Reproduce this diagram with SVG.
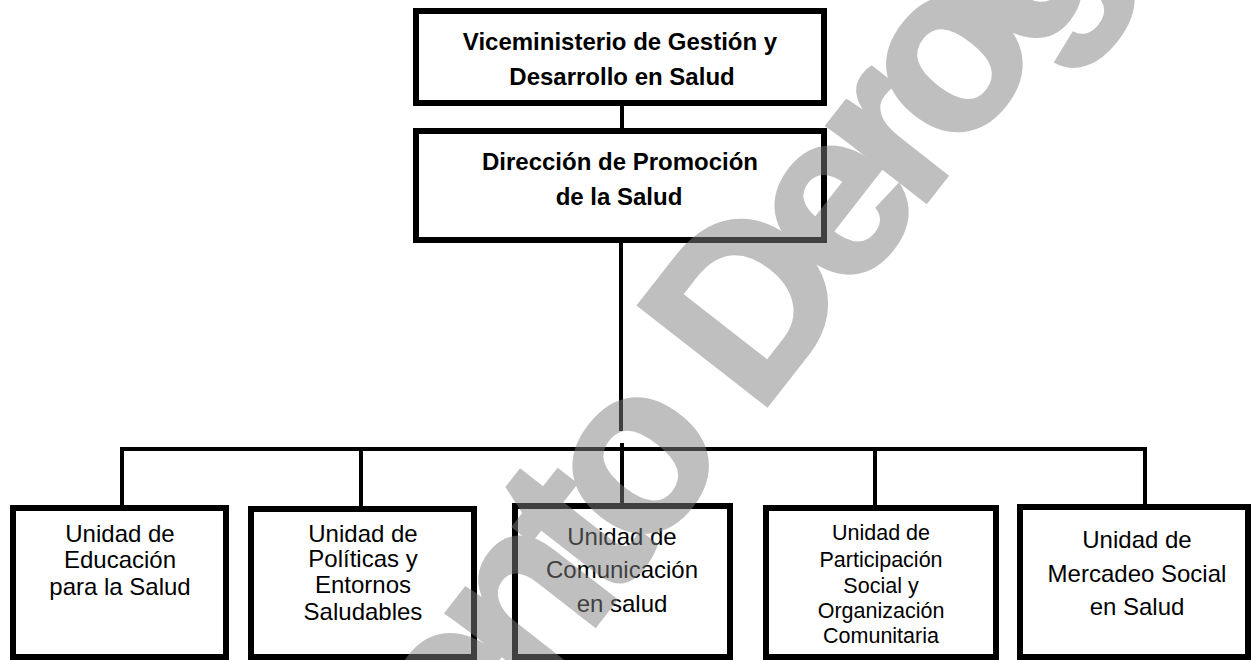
<svg xmlns="http://www.w3.org/2000/svg" width="1251" height="660" viewBox="0 0 1251 660">
<style>
.box{fill:#fff;stroke:#000;stroke-width:6}
.ln{stroke:#000;stroke-width:4;fill:none}
.tb{font-family:"Liberation Sans",Arial,sans-serif;font-weight:bold;font-size:24px;text-anchor:middle;fill:#000}
.t{font-family:"Liberation Sans",Arial,sans-serif;font-size:24px;text-anchor:middle;fill:#000}
.ts{font-family:"Liberation Sans",Arial,sans-serif;font-size:21.5px;text-anchor:middle;fill:#000}
.wm{font-family:"Liberation Sans",Arial,sans-serif;font-weight:bold;font-size:236px;letter-spacing:-22px;fill:#808080;stroke:#808080;stroke-width:4}
</style>
<rect width="1251" height="660" fill="#fff"/>
<g id="connectors">
<line class="ln" x1="622" y1="106" x2="622" y2="128"/>
<line class="ln" x1="621" y1="243" x2="621" y2="431"/>
<line class="ln" x1="120" y1="449" x2="1147" y2="449"/>
<line class="ln" x1="122" y1="447" x2="122" y2="505"/>
<line class="ln" x1="361" y1="447" x2="361" y2="506"/>
<line class="ln" x1="622" y1="443" x2="622" y2="503"/>
<line class="ln" x1="875" y1="447" x2="875" y2="505"/>
<line class="ln" x1="1145" y1="447" x2="1145" y2="504"/>
</g>
<g id="n-vice">
<rect class="box" x="416" y="11" width="408" height="92"/>
<text class="tb" x="620" y="50">Viceministerio de Gestión y</text>
<text class="tb" x="622" y="85">Desarrollo en Salud</text>
</g>
<g id="n-direccion">
<rect class="box" x="416" y="131" width="408" height="109"/>
<text class="tb" x="620" y="170">Dirección de Promoción</text>
<text class="tb" x="619" y="205">de la Salud</text>
</g>
<g id="n-educacion">
<rect class="box" x="13" y="508" width="213" height="149"/>
<text class="t" x="120" y="542">Unidad de</text>
<text class="t" x="120" y="568">Educación</text>
<text class="t" x="120" y="595">para la Salud</text>
</g>
<g id="n-politicas">
<rect class="box" x="251" y="509" width="223" height="148"/>
<text class="t" x="363" y="542">Unidad de</text>
<text class="t" x="363" y="567">Políticas y</text>
<text class="t" x="363" y="593">Entornos</text>
<text class="t" x="363" y="620">Saludables</text>
</g>
<g id="n-comunicacion">
<rect class="box" x="515" y="506" width="215" height="151"/>
<text class="t" x="622" y="545">Unidad de</text>
<text class="t" x="622" y="578">Comunicación</text>
<text class="t" x="622" y="612">en salud</text>
</g>
<g id="n-participacion">
<rect class="box" x="766" y="508" width="230" height="149"/>
<text class="ts" x="881" y="540">Unidad de</text>
<text class="ts" x="881" y="567">Participación</text>
<text class="ts" x="881" y="593">Social y</text>
<text class="ts" x="881" y="618">Organización</text>
<text class="ts" x="881" y="643">Comunitaria</text>
</g>
<g id="n-mercadeo">
<rect class="box" x="1020" y="507" width="228" height="150"/>
<text class="t" x="1137" y="548">Unidad de</text>
<text class="t" x="1137" y="582">Mercadeo Social</text>
<text class="t" x="1137" y="615">en Salud</text>
</g>
<g id="watermark" opacity="0.5" transform="translate(757.6,417.5) rotate(-52)">
<text class="wm" x="-1160" y="0">Documento</text>
<text class="wm" x="0" y="0">Derogado</text>
</g>
</svg>
